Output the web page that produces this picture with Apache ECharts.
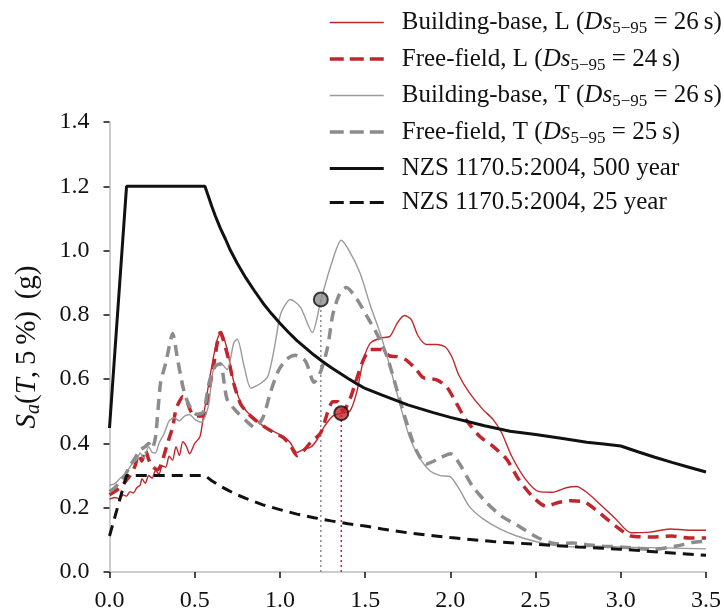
<!DOCTYPE html>
<html>
<head>
<meta charset="utf-8">
<script src="https://cdn.jsdelivr.net/npm/echarts@6/dist/echarts.min.js"></script>
<style>
  html, body { margin: 0; padding: 0; background: #fff; }
  #chart { width: 724px; height: 613px; }
</style>
</head>
<body>
<div id="chart"></div>
<script>
// Period axis ticks and spectral acceleration axis ticks
const periodTicks = [0.0, 0.5, 1.0, 1.5, 2.0, 2.5, 3.0, 3.5];
const saTicks = [0.0, 0.2, 0.4, 0.6, 0.8, 1.0, 1.2, 1.4];

// Significant durations (s) for each recorded component
const durations = { 'Building-base, L': 26, 'Free-field, L': 24, 'Building-base, T': 26, 'Free-field, T': 25 };

// 5%-damped response spectra, [T (s), Sa (g)]
const buildingBaseL = [
  [0.00,0.227],[0.03,0.232],[0.06,0.228],[0.08,0.240],[0.10,0.236],[0.12,0.250],[0.14,0.246],
  [0.16,0.262],[0.18,0.270],[0.19,0.290],[0.21,0.276],[0.23,0.300],[0.25,0.292],[0.27,0.316],
  [0.29,0.305],[0.31,0.330],[0.33,0.326],[0.35,0.360],[0.37,0.348],[0.39,0.390],[0.41,0.362],
  [0.43,0.405],[0.45,0.392],[0.47,0.368],[0.50,0.400],[0.53,0.420],[0.55,0.480],[0.59,0.610],
  [0.63,0.720],[0.655,0.748],[0.69,0.692],[0.73,0.590],[0.77,0.527],[0.81,0.496],[0.85,0.480],
  [0.90,0.455],[0.96,0.438],[1.02,0.422],[1.06,0.403],[1.10,0.372],[1.14,0.382],[1.18,0.388],
  [1.22,0.413],[1.26,0.452],[1.31,0.485],[1.36,0.494],[1.41,0.500],[1.45,0.558],[1.49,0.660],
  [1.53,0.712],[1.59,0.728],[1.645,0.733],[1.69,0.776],[1.73,0.798],[1.77,0.786],[1.81,0.735],
  [1.86,0.708],[1.92,0.708],[1.97,0.700],[2.01,0.668],[2.05,0.612],[2.11,0.559],[2.19,0.506],
  [2.25,0.475],[2.30,0.434],[2.36,0.360],[2.44,0.289],[2.52,0.250],[2.60,0.248],[2.68,0.262],
  [2.74,0.266],[2.80,0.248],[2.88,0.210],[2.97,0.165],[3.06,0.122],[3.17,0.124],[3.29,0.134],
  [3.40,0.130],[3.50,0.130]
];
const freeFieldL = [
  [0.00,0.240],[0.03,0.250],[0.06,0.262],[0.09,0.280],[0.12,0.300],[0.15,0.330],[0.17,0.365],
  [0.19,0.345],[0.21,0.380],[0.23,0.350],[0.25,0.330],[0.28,0.318],[0.30,0.330],[0.34,0.400],
  [0.37,0.450],[0.39,0.506],[0.41,0.530],[0.43,0.545],[0.45,0.537],[0.48,0.497],[0.51,0.485],
  [0.55,0.485],[0.585,0.568],[0.61,0.640],[0.65,0.745],[0.69,0.680],[0.73,0.585],[0.77,0.522],
  [0.81,0.495],[0.85,0.475],[0.90,0.455],[0.96,0.435],[1.02,0.418],[1.06,0.395],[1.10,0.362],
  [1.14,0.378],[1.18,0.403],[1.24,0.434],[1.28,0.497],[1.31,0.530],[1.34,0.530],[1.37,0.500],
  [1.41,0.537],[1.45,0.600],[1.49,0.660],[1.53,0.692],[1.59,0.692],[1.645,0.672],[1.69,0.670],
  [1.74,0.660],[1.80,0.630],[1.84,0.605],[1.92,0.598],[1.98,0.575],[2.03,0.530],[2.09,0.475],
  [2.17,0.423],[2.25,0.391],[2.33,0.351],[2.40,0.289],[2.48,0.236],[2.56,0.205],[2.64,0.217],
  [2.71,0.222],[2.79,0.217],[2.87,0.186],[2.97,0.143],[3.06,0.112],[3.18,0.109],[3.30,0.112],
  [3.40,0.106],[3.50,0.106]
];
const buildingBaseT = [
  [0.00,0.270],[0.03,0.275],[0.06,0.290],[0.10,0.310],[0.13,0.335],[0.16,0.350],[0.18,0.370],
  [0.20,0.355],[0.23,0.390],[0.25,0.372],[0.27,0.370],[0.29,0.400],[0.32,0.430],[0.35,0.470],
  [0.38,0.480],[0.41,0.470],[0.44,0.485],[0.47,0.490],[0.50,0.475],[0.54,0.466],[0.58,0.516],
  [0.61,0.630],[0.65,0.650],[0.69,0.630],[0.73,0.714],[0.75,0.724],[0.79,0.640],[0.83,0.572],
  [0.89,0.588],[0.93,0.610],[0.965,0.690],[1.00,0.795],[1.03,0.830],[1.06,0.848],[1.12,0.824],
  [1.19,0.745],[1.24,0.845],[1.30,0.955],[1.36,1.032],[1.41,0.996],[1.47,0.930],[1.53,0.830],
  [1.59,0.740],[1.645,0.640],[1.70,0.530],[1.76,0.420],[1.82,0.355],[1.88,0.315],[1.94,0.300],
  [2.00,0.296],[2.05,0.260],[2.11,0.205],[2.19,0.166],[2.29,0.134],[2.39,0.112],[2.50,0.095],
  [2.62,0.082],[2.75,0.078],[2.87,0.080],[3.06,0.077],[3.26,0.075],[3.50,0.072]
];
const freeFieldT = [
  [0.00,0.250],[0.03,0.262],[0.06,0.280],[0.09,0.300],[0.12,0.330],[0.15,0.355],[0.18,0.380],
  [0.21,0.390],[0.23,0.400],[0.25,0.385],[0.27,0.420],[0.30,0.590],[0.33,0.650],[0.355,0.714],
  [0.37,0.742],[0.40,0.660],[0.43,0.578],[0.45,0.540],[0.48,0.506],[0.51,0.491],[0.55,0.497],
  [0.585,0.590],[0.62,0.640],[0.65,0.648],[0.69,0.537],[0.75,0.497],[0.81,0.466],[0.85,0.450],
  [0.90,0.480],[0.945,0.560],[0.99,0.625],[1.04,0.662],[1.09,0.674],[1.15,0.656],[1.20,0.590],
  [1.24,0.625],[1.28,0.700],[1.31,0.800],[1.35,0.865],[1.39,0.885],[1.45,0.850],[1.51,0.796],
  [1.57,0.740],[1.63,0.668],[1.69,0.560],[1.745,0.462],[1.80,0.378],[1.86,0.336],[1.94,0.355],
  [2.00,0.368],[2.05,0.340],[2.13,0.267],[2.21,0.217],[2.30,0.174],[2.40,0.143],[2.52,0.105],
  [2.62,0.088],[2.72,0.090],[2.80,0.085],[2.90,0.080],[3.00,0.078],[3.18,0.070],[3.32,0.080],
  [3.42,0.092],[3.50,0.096]
];

// NZS 1170.5:2004 design spectra, [T (s), Sa (g)]
const nzs500 = [
  [0.00,0.448],[0.10,1.200],[0.56,1.200],[0.58,1.169],[0.60,1.138],[0.62,1.109],[0.65,1.070],
  [0.68,1.036],[0.71,1.000],[0.75,0.960],[0.80,0.915],[0.85,0.875],[0.90,0.837],[0.95,0.804],
  [1.00,0.774],[1.05,0.746],[1.10,0.720],[1.15,0.697],[1.20,0.675],[1.25,0.655],[1.30,0.636],
  [1.35,0.619],[1.40,0.602],[1.45,0.586],[1.50,0.571],[1.60,0.550],[1.75,0.520],[1.90,0.496],
  [2.00,0.481],[2.10,0.468],[2.20,0.455],[2.35,0.438],[2.50,0.428],[2.65,0.416],[2.80,0.404],
  [2.90,0.398],[3.00,0.392],[3.10,0.374],[3.20,0.357],[3.30,0.341],[3.40,0.326],[3.50,0.311]
];
const nzs25 = [
  [0.00,0.112],[0.10,0.300],[0.56,0.300],[0.58,0.292],[0.60,0.284],[0.65,0.267],[0.70,0.253],
  [0.75,0.240],[0.80,0.229],[0.85,0.219],[0.90,0.209],[1.00,0.194],[1.10,0.180],[1.20,0.169],
  [1.30,0.159],[1.40,0.150],[1.50,0.143],[1.60,0.134],[1.75,0.122],[1.90,0.113],[2.00,0.107],
  [2.25,0.095],[2.50,0.086],[2.75,0.078],[3.00,0.071],[3.25,0.061],[3.50,0.052]
];

// Highlighted spectral ordinates (T, Sa) on the transverse and longitudinal building-base spectra
const highlightT = [1.24, 1.36];
const highlightSa = [0.848, 0.494];

const RED = '#c0272d';
const GRAY_THIN = '#9a9a9a';
const GRAY_DASH = '#8c8c8c';
const SERIF = '"Liberation Serif", "Times New Roman", serif';
const DASH = [11, 7];

const chart = echarts.init(document.getElementById('chart'), null, { renderer: 'canvas' });

const legendItems = [
  { name: 'Building-base, L', color: RED, width: 1.5, type: 'solid' },
  { name: 'Free-field, L', color: RED, width: 3.5, type: [14, 6] },
  { name: 'Building-base, T', color: GRAY_THIN, width: 1.5, type: 'solid' },
  { name: 'Free-field, T', color: GRAY_DASH, width: 3.5, type: [14, 6] },
  { name: 'NZS 1170.5:2004, 500 year', color: '#111', width: 3, type: 'solid' },
  { name: 'NZS 1170.5:2004, 25 year', color: '#111', width: 3, type: [14, 6] }
];

function spectrum(name, data, color, width, type, smooth) {
  return {
    name, type: 'line', data, symbol: 'none', showSymbol: false,
    smooth: smooth ? 0.25 : false,
    lineStyle: { color, width, type },
    itemStyle: { color },
    emphasis: { disabled: true }
  };
}

const option = {
  animation: false,
  backgroundColor: '#fff',
  grid: { left: 109.5, right: 17.5, top: 122, bottom: 41, containLabel: false },
  legend: {
    data: legendItems.map(it => ({
      name: it.name,
      itemStyle: { opacity: 0 },
      lineStyle: { color: it.color, width: it.width, type: it.type, opacity: 1 }
    })),
    orient: 'vertical',
    left: 328,
    top: 10,
    padding: 0,
    itemWidth: 54,
    itemHeight: 14,
    itemGap: 9,
    align: 'left',
    selectedMode: false,
    formatter: function (name) {
      const d = durations[name];
      if (d === undefined) return '{f|' + name + '}';
      return '{f|' + name + ' (}{i|Ds}{s|5\u221295}{n| = ' + d + '\u2009s)}';
    },
    textStyle: {
      fontFamily: SERIF, fontSize: 25, color: '#111',
      rich: {
        f: { fontFamily: SERIF, fontSize: 25, lineHeight: 30, color: '#111', padding: [0, 0, 0, 13] },
        n: { fontFamily: SERIF, fontSize: 25, lineHeight: 30, color: '#111' },
        i: { fontFamily: SERIF, fontSize: 25, lineHeight: 30, color: '#111', fontStyle: 'italic' },
        s: { fontFamily: SERIF, fontSize: 17, lineHeight: 16, color: '#111', verticalAlign: 'bottom' }
      }
    }
  },
  xAxis: {
    type: 'value', min: 0, max: 3.5, interval: 0.5,
    axisLine: { show: true, lineStyle: { color: '#bdbdbd', width: 1.5 } },
    axisTick: { show: true, length: 6, lineStyle: { color: '#111', width: 1.5 } },
    axisLabel: {
      margin: 17, fontFamily: SERIF, fontSize: 24, color: '#111',
      formatter: v => periodTicks.find(t => Math.abs(t - v) < 1e-9).toFixed(1)
    },
    splitLine: { show: false }
  },
  yAxis: {
    type: 'value', min: 0, max: 1.4, interval: 0.2,
    name: '{i|S}{s|a}{n|(}{i|T}{n|,\u20095\u2009%)\u2009\u2009(g)}',
    nameLocation: 'middle', nameRotate: 90, nameGap: 66,
    nameTextStyle: {
      fontFamily: SERIF, fontSize: 29, color: '#111',
      rich: {
        n: { fontFamily: SERIF, fontSize: 29, lineHeight: 32, color: '#111' },
        i: { fontFamily: SERIF, fontSize: 29, lineHeight: 32, color: '#111', fontStyle: 'italic' },
        s: { fontFamily: SERIF, fontSize: 20, lineHeight: 16, color: '#111', fontStyle: 'italic', verticalAlign: 'bottom' }
      }
    },
    axisLine: { show: true, lineStyle: { color: '#bdbdbd', width: 1.5 } },
    axisTick: { show: true, length: 6, lineStyle: { color: '#111', width: 1.5 } },
    axisLabel: {
      margin: 20, fontFamily: SERIF, fontSize: 24, color: '#111',
      formatter: v => saTicks.find(t => Math.abs(t - v) < 1e-9).toFixed(1)
    },
    splitLine: { show: false }
  },
  series: [
    // vertical guides dropping from the highlighted ordinates
    {
      name: 'guideT', type: 'line', symbol: 'none', silent: true,
      data: [[highlightT[0], 0], [highlightT[0], highlightSa[0]]],
      lineStyle: { color: '#8a8a8a', width: 1.5, type: [2, 3] }, z: 1
    },
    {
      name: 'guideL', type: 'line', symbol: 'none', silent: true,
      data: [[highlightT[1], 0], [highlightT[1], highlightSa[1]]],
      lineStyle: { color: '#d0222a', width: 1.5, type: [2, 3] }, z: 1
    },
    spectrum('Building-base, L', buildingBaseL, RED, 1.4, 'solid', true),
    spectrum('Free-field, L', freeFieldL, RED, 3.5, DASH, true),
    spectrum('Building-base, T', buildingBaseT, GRAY_THIN, 1.4, 'solid', true),
    spectrum('Free-field, T', freeFieldT, GRAY_DASH, 3.5, DASH, true),
    spectrum('NZS 1170.5:2004, 500 year', nzs500, '#111', 3, 'solid', false),
    spectrum('NZS 1170.5:2004, 25 year', nzs25, '#111', 3, DASH, false),
    {
      name: 'highlight', type: 'scatter', symbol: 'circle', symbolSize: 14, silent: true, z: 5,
      data: [
        { value: [highlightT[0], highlightSa[0]], itemStyle: { color: '#8c8c8c' } },
        { value: [highlightT[1], highlightSa[1]], itemStyle: { color: RED } }
      ],
      itemStyle: { borderColor: '#111', borderWidth: 2 }
    }
  ]
};

chart.setOption(option);
</script>
</body>
</html>
